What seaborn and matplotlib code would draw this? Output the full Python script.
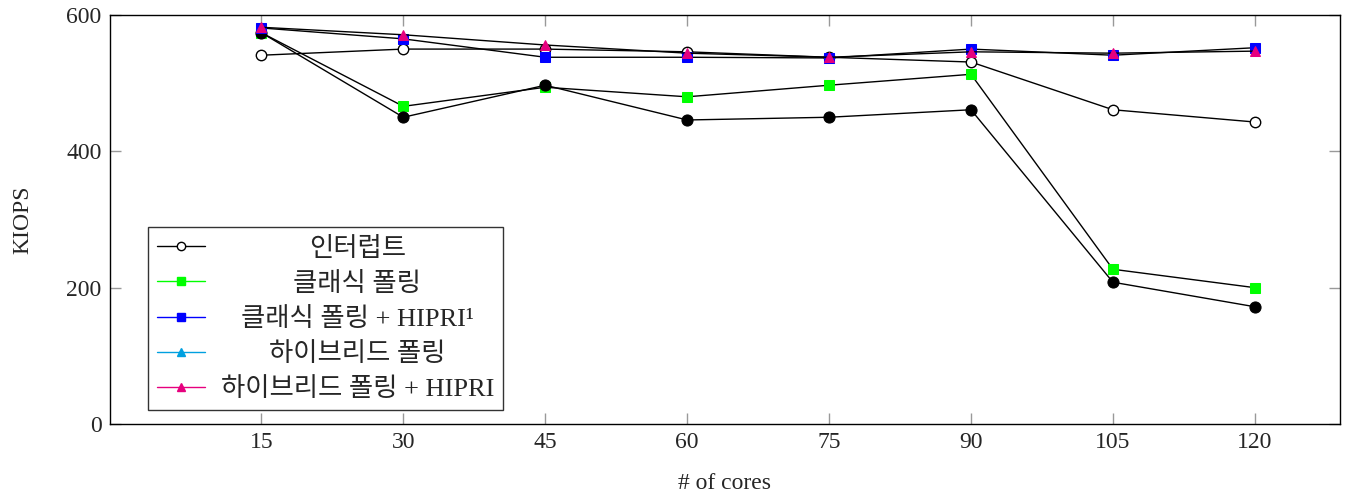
import matplotlib
matplotlib.use("Agg")
import matplotlib.pyplot as plt
from matplotlib.lines import Line2D
import numpy as np
import pandas as pd
import seaborn as sns

sns.set_theme(style="white")
plt.rcParams['font.family'] = ['Liberation Serif', 'Noto Sans CJK KR']

cores = [15, 30, 45, 60, 75, 90, 105, 120]
interrupt = [541, 550, 550, 546, 538, 531, 461, 443]
classic = [574, 466, 494, 480, 497, 513, 227, 200]
classic_hipri = [581, 565, 538, 538, 537, 550, 541, 552]
hybrid = [574, 450, 497, 446, 450, 461, 208, 172]
hybrid_hipri = [582, 571, 556, 544, 538, 546, 544, 547]

labels = ['인터럽트', '클래식 폴링', '클래식 폴링 + HIPRI¹',
          '하이브리드 폴링', '하이브리드 폴링 + HIPRI']

fig, ax = plt.subplots(figsize=(13.59, 4.95), dpi=100)
fig.subplots_adjust(left=110/1359, right=1340/1359, bottom=71/495, top=480/495)

# plot order matters for overlaps
series = [
    (interrupt, dict(marker='o', markersize=7.5, markerfacecolor='white', markeredgecolor='black', markeredgewidth=1)),
    (classic, dict(marker='s', markersize=7.5, markerfacecolor='#00ff00', markeredgecolor='#00ff00')),
    (hybrid, dict(marker='o', markersize=8, markerfacecolor='black', markeredgecolor='black')),
    (classic_hipri, dict(marker='s', markersize=7.5, markerfacecolor='#0000ff', markeredgecolor='#0000ff')),
    (hybrid_hipri, dict(marker='^', markersize=7.5, markerfacecolor='#e6007e', markeredgecolor='#e6007e')),
]
for vals, kw in series:
    df = pd.DataFrame({'cores': cores, 'kiops': vals})
    sns.lineplot(data=df, x='cores', y='kiops', color='black', linewidth=1, ax=ax, **kw)

ax.set_xlim(-1, 129)
ax.set_ylim(0, 600)
ax.set_xticks(cores)
ax.set_yticks([0, 200, 400, 600])
ax.tick_params(direction='in', length=8, width=1, color='#999999', labelsize=17,
               top=True, right=True, bottom=True, left=True, pad=6)
for s in ax.spines.values():
    s.set_color('black')
    s.set_linewidth(1)
ax.set_xlabel('# of cores', fontsize=17, labelpad=14)
ax.set_ylabel('KIOPS', fontsize=17, labelpad=24)

handles = [
    Line2D([], [], color='black', lw=1, marker='o', markersize=6, markerfacecolor='white', markeredgecolor='black'),
    Line2D([], [], color='#00ff00', lw=1, marker='s', markersize=6, markerfacecolor='#00ff00', markeredgecolor='#00ff00'),
    Line2D([], [], color='#0000ff', lw=1, marker='s', markersize=6, markerfacecolor='#0000ff', markeredgecolor='#0000ff'),
    Line2D([], [], color='#00a0e0', lw=1, marker='^', markersize=6, markerfacecolor='#00a0e0', markeredgecolor='#00a0e0'),
    Line2D([], [], color='#e6007e', lw=1, marker='^', markersize=6, markerfacecolor='#e6007e', markeredgecolor='#e6007e'),
]
leg = ax.legend(handles, labels, loc='lower left', bbox_to_anchor=(38/1230, 14/409),
                fontsize=19, frameon=True, fancybox=False, edgecolor='black',
                handlelength=1.8, labelspacing=0.42, borderpad=0.35, handletextpad=0.6,
                borderaxespad=0)
leg.get_frame().set_linewidth(1)

# center legend texts like the original
fig.canvas.draw()
r = fig.canvas.get_renderer()
widths = [t.get_window_extent(r).width for t in leg.get_texts()]
mw = max(widths)
for t, w in zip(leg.get_texts(), widths):
    t.set_position(((mw - w) / 2, 0))

fig.savefig('out.png', dpi=100)
